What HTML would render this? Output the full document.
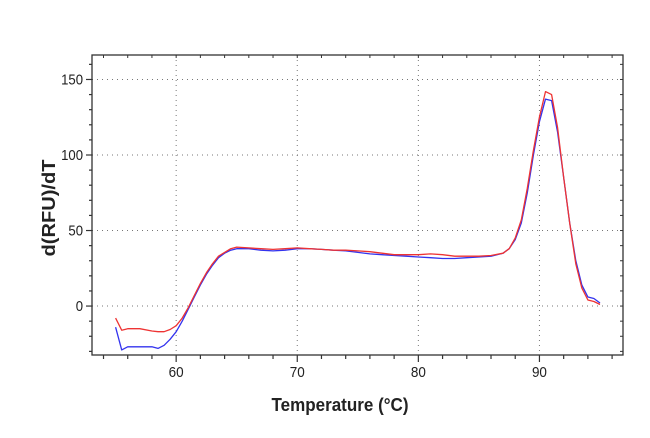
<!DOCTYPE html>
<html><head><meta charset="utf-8"><style>
html,body{margin:0;padding:0;background:#fff;}
svg{display:block;font-family:"Liberation Sans Narrow","Liberation Sans",sans-serif;}
</style></head><body>
<svg id="chart" width="650" height="438" viewBox="0 0 650 438"></svg>
<script>
const temps=[55,55.5,56,57,58,58.5,59,59.5,60,60.5,61,61.5,62,62.5,63,63.5,64,64.5,65,66,67,68,69,70,71,72,73,74,75,76,77,78,79,80,81,82,83,84,85,86,87,87.5,88,88.5,89,89.5,90,90.5,91,91.5,92,92.5,93,93.5,94,94.5,95];
const blueValues=[-14,-29,-27,-27,-27,-28,-26,-22,-17,-10,-2,6,14,21,27,32,35,37,38,38,37,36.5,37,38,38,37.5,37,36.5,35.5,34.5,34,33.5,33,32.5,32,31.5,31.5,32,32.5,33,35,38,44,55,75,100,122,137,136,115,85,55,30,14,6,5,2];
const redValues=[-8,-16,-15,-15,-16.5,-17,-17,-15.5,-13,-8,-1,7,15,22,28,33,35.5,38,39,38.5,38,37.5,38,38.5,38,37.5,37,37,36.5,36,35,34,34,34,34.5,34,33,33,33,33.5,35,38,45,57,78,103,125,142,140,118,85,55,28,12,4,3,1];
const xTicks=[60,70,80,90];
const yTicks=[0,50,100,150];
const L=92,R=623,T=55,B=355;
const xMin=53.05,xMax=96.9,yMin=-32.4,yMax=166.2;
const sx=v=>L+(v-xMin)/(xMax-xMin)*(R-L);
const sy=v=>B-(v-yMin)/(yMax-yMin)*(B-T);
const svg=document.getElementById('chart');
const NS='http://www.w3.org/2000/svg';
function mk(tag,attrs){const e=document.createElementNS(NS,tag);for(const k in attrs)e.setAttribute(k,attrs[k]);svg.appendChild(e);return e;}
for(const t of xTicks){const g=mk('line',{x1:sx(t),x2:sx(t),y1:T,y2:B,stroke:'#777','stroke-width':1,'stroke-dasharray':'1,4'});

}
for(const t of yTicks){const g=mk('line',{x1:L,x2:R,y1:sy(t),y2:sy(t),stroke:'#777','stroke-width':1,'stroke-dasharray':'1,4'});

}
const fr=mk('rect',{x:L,y:T,width:R-L,height:B-T,fill:'none',stroke:'#333','stroke-width':1.3});


for(let v=54;v<=96;v+=2){const big=v%10===0;const l=mk('line',{x1:sx(v),x2:sx(v),y1:B,y2:B+(big?7:4),stroke:'#333','stroke-width':1.2});


mk('line',{x1:sx(v),x2:sx(v),y1:T,y2:T+3,stroke:'#333','stroke-width':1});}
for(let v=-30;v<=160;v+=10){const big=v%50===0;const l=mk('line',{x1:L-(big?6:3),x2:L,y1:sy(v),y2:sy(v),stroke:'#333','stroke-width':1.2});


mk('line',{x1:R-3,x2:R,y1:sy(v),y2:sy(v),stroke:'#333','stroke-width':1});}
for(const t of xTicks){const tx=mk('text',{x:sx(t),y:B+22,'text-anchor':'middle','font-size':15,fill:'#222',textLength:15,lengthAdjust:'spacingAndGlyphs'});tx.textContent=t;

}
for(const t of yTicks){const s=String(t);const tx=mk('text',{x:L-9,y:sy(t)+5,'text-anchor':'end','font-size':15,fill:'#222',textLength:s.length*7.3,lengthAdjust:'spacingAndGlyphs'});tx.textContent=s;

}
function line(vals,color,name){const d=temps.map((t,i)=>(i?'L':'M')+sx(t).toFixed(1)+','+sy(vals[i]).toFixed(1)).join('');
const p=mk('path',{d:d,fill:'none',stroke:color,'stroke-width':1.3,'stroke-linejoin':'round'});

}
line(blueValues,'#3333ee','series-blue');
line(redValues,'#ee3333','series-red');
const xt=mk('text',{x:340,y:411,'text-anchor':'middle','font-size':18,'font-weight':'bold',fill:'#222',textLength:137,lengthAdjust:'spacingAndGlyphs'});xt.textContent='Temperature (°C)';


const yt=mk('text',{x:0,y:0,'text-anchor':'middle','font-size':18,'font-weight':'bold',fill:'#222',textLength:97,lengthAdjust:'spacingAndGlyphs',transform:'translate(55,208) rotate(-90)'});yt.textContent='d(RFU)/dT';


</script>
</body></html>
